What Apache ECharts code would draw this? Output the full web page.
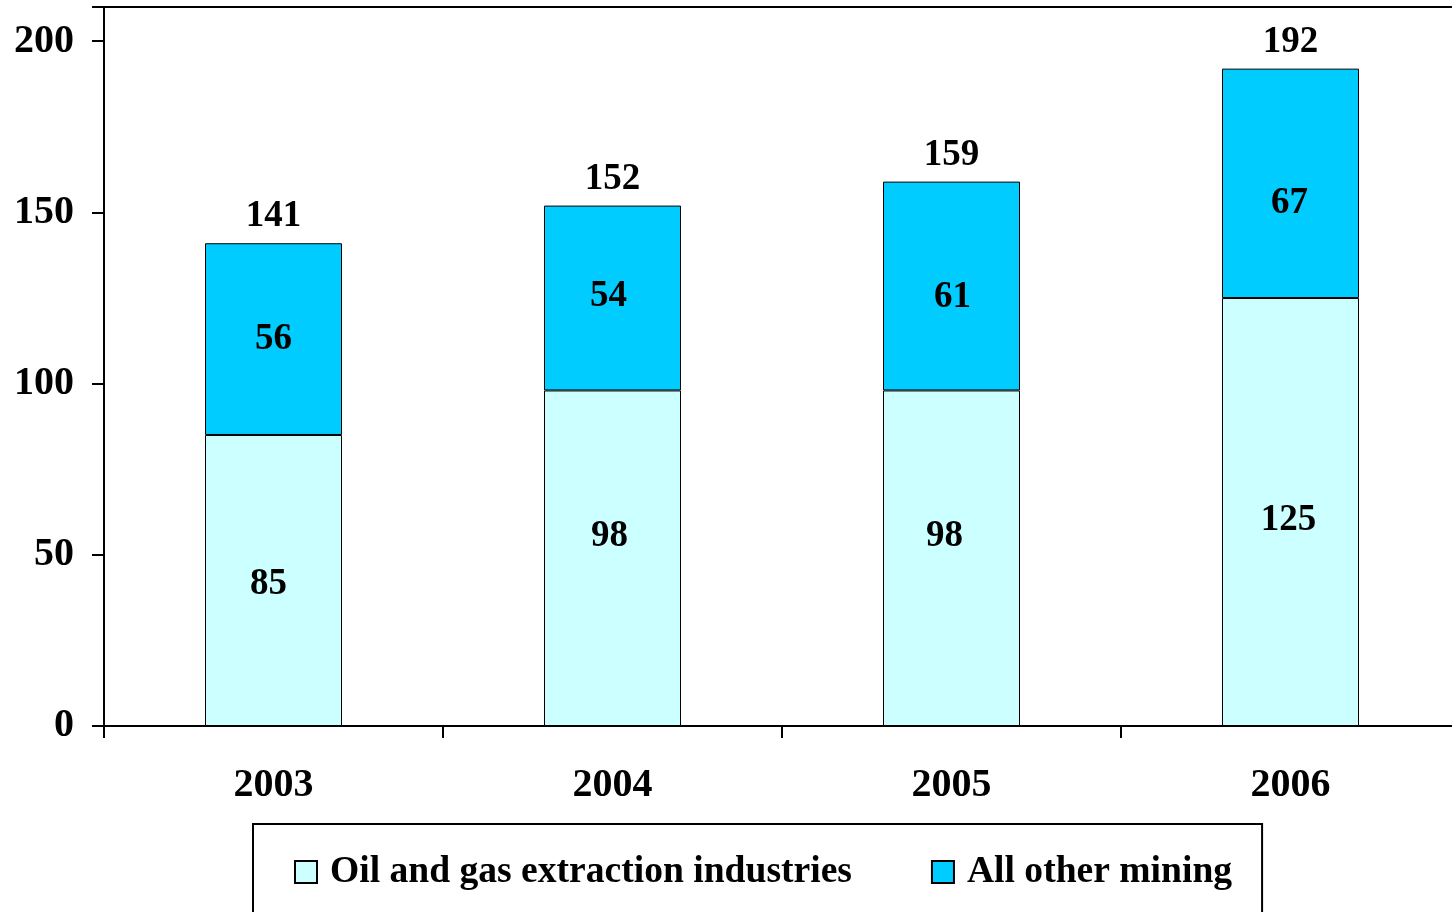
<!DOCTYPE html>
<html>
<head>
<meta charset="utf-8">
<script src="https://cdn.jsdelivr.net/npm/echarts@6/dist/echarts.min.js"></script>
<style>
  html, body { margin: 0; padding: 0; background: #fff; }
  #chart { width: 1452px; height: 912px; }
</style>
</head>
<body>
<div id="chart"></div>
<script>
  // 数据
  var years = ['2003', '2004', '2005', '2006'];
  var oilGas = [85, 98, 98, 125];
  var otherMining = [56, 54, 61, 67];
  var totals = [141, 152, 159, 192];

  var font = "'Liberation Serif', 'Times New Roman', serif";

  // 标签微调 (Excel 原图里的标签位置不完全居中)
  var oilOffsets = [[-5, 4], [-3, -22], [-7, -22], [-2, 8]];
  var otherOffsets = [[0, 0], [-4, -2], [1, 11], [-1, 20]];

  function withOffsets(values, offsets) {
    return values.map(function (v, i) {
      return {value: v, label: {offset: offsets[i]}};
    });
  }

  var labelStyle = {fontFamily: font, fontWeight: 'bold', fontSize: 37, color: '#000'};

  var myChart = echarts.init(document.getElementById('chart'));
  myChart.setOption({
    animation: false,
    textStyle: {fontFamily: font, fontWeight: 'bold', color: '#000'},
    grid: {
      left: 104, top: 7, width: 1356, bottom: 186,
      outerBoundsMode: 'none',
      show: true, borderColor: '#000', borderWidth: 2
    },
    legend: {
      data: ['Oil and gas extraction industries', 'All other mining'],
      left: 253, top: 824,
      padding: [29, 30, 60, 41],
      icon: 'rect',
      itemWidth: 22, itemHeight: 22, itemGap: 79,
      borderColor: '#000', borderWidth: 2,
      textStyle: {fontFamily: font, fontWeight: 'bold', fontSize: 37.6, color: '#000', padding: [0, 0, 0, 8]}
    },
    xAxis: {
      type: 'category',
      data: years,
      axisLine: {lineStyle: {color: '#000', width: 2}},
      axisTick: {show: true, length: 12, lineStyle: {color: '#000', width: 2}},
      axisLabel: {margin: 40, fontFamily: font, fontWeight: 'bold', fontSize: 40, color: '#000'}
    },
    yAxis: {
      type: 'value',
      min: 0, max: 210, interval: 50,
      splitLine: {show: false},
      axisLine: {show: true, lineStyle: {color: '#000', width: 2}},
      axisTick: {show: true, length: 12, lineStyle: {color: '#000', width: 2}},
      axisLabel: {
        margin: 30, fontFamily: font, fontWeight: 'bold', fontSize: 40, color: '#000',
        formatter: function (v) { return v % 50 === 0 ? v : ''; }
      }
    },
    series: [
      {
        name: 'Oil and gas extraction industries',
        type: 'bar', stack: 'a', barWidth: 137,
        data: withOffsets(oilGas, oilOffsets),
        itemStyle: {color: '#CCFFFF', borderColor: '#000', borderWidth: 1},
        label: Object.assign({show: true, position: 'inside'}, labelStyle)
      },
      {
        name: 'All other mining',
        type: 'bar', stack: 'a', barWidth: 137,
        data: withOffsets(otherMining, otherOffsets),
        itemStyle: {color: '#00CCFF', borderColor: '#000', borderWidth: 1},
        label: Object.assign({show: true, position: 'inside'}, labelStyle)
      },
      {
        name: 'Total',
        type: 'bar', stack: 'a', barWidth: 137,
        data: totals.map(function () { return 0; }),
        itemStyle: {color: 'transparent', borderWidth: 0},
        label: Object.assign({
          show: true, position: 'top', distance: 8,
          formatter: function (p) { return totals[p.dataIndex]; }
        }, labelStyle)
      }
    ]
  });
</script>
</body>
</html>
